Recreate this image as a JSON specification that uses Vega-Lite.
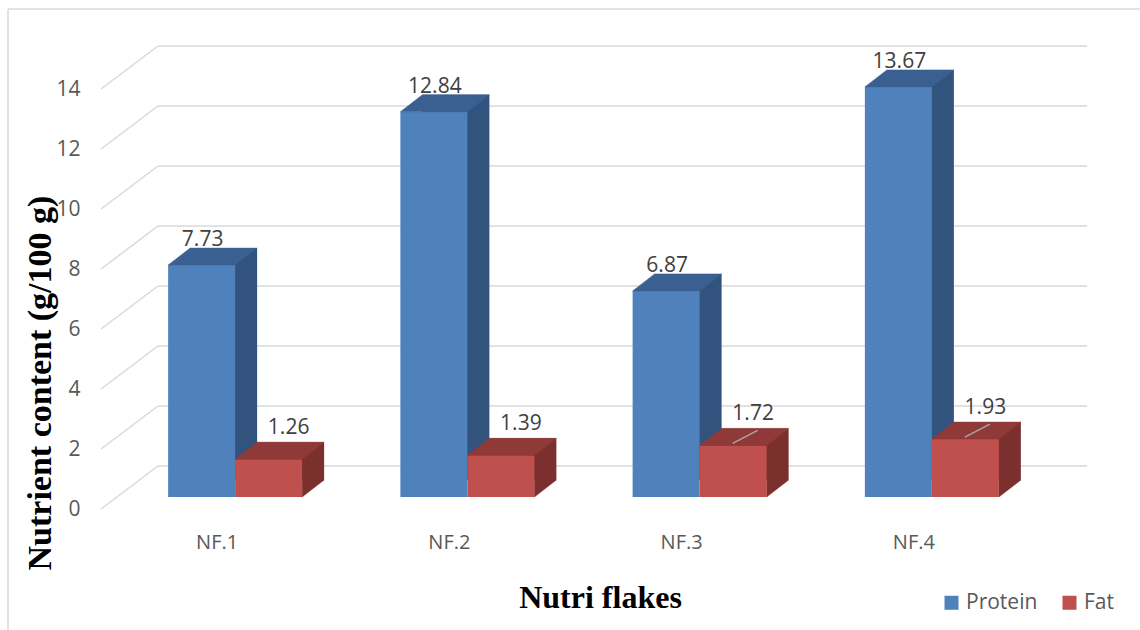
{
  "$schema": "https://vega.github.io/schema/vega-lite/v6.json",
  "autosize": "none",
  "width": 929,
  "height": 420,
  "padding": {"left": 101, "top": 89, "right": 110, "bottom": 121},
  "background": "white",
  "config": {
    "view": {"stroke": null},
    "font": "Open Sans"
  },
  "datasets": {
    "nutrients": [
      {"flakes": "NF.1", "nutrient": "Protein", "value": 7.73},
      {"flakes": "NF.2", "nutrient": "Protein", "value": 12.84},
      {"flakes": "NF.3", "nutrient": "Protein", "value": 6.87},
      {"flakes": "NF.4", "nutrient": "Protein", "value": 13.67},
      {"flakes": "NF.1", "nutrient": "Fat", "value": 1.26},
      {"flakes": "NF.2", "nutrient": "Fat", "value": 1.39},
      {"flakes": "NF.3", "nutrient": "Fat", "value": 1.72},
      {"flakes": "NF.4", "nutrient": "Fat", "value": 1.93}
    ],
    "ticks": [{"v": 0}, {"v": 2}, {"v": 4}, {"v": 6}, {"v": 8}, {"v": 10}, {"v": 12}, {"v": 14}]
  },
  "encoding": {
    "x": {
      "field": "flakes",
      "type": "nominal",
      "sort": ["NF.1", "NF.2", "NF.3", "NF.4"],
      "scale": {"domain": ["NF.1", "NF.2", "NF.3", "NF.4"], "paddingInner": 0, "paddingOuter": 0},
      "axis": {
        "title": "Nutri flakes",
        "domain": false,
        "ticks": false,
        "tickSize": 0,
        "grid": false,
        "labelAngle": 0,
        "labelFont": "Open Sans",
        "labelFontSize": 20,
        "labelColor": "#595959",
        "labelPadding": 39,
        "labelBaseline": "alphabetic",
        "titleFont": "Liberation Serif",
        "titleFontSize": 32,
        "titleFontWeight": "bold",
        "titleColor": "#000000",
        "titleX": 499,
        "titleY": 98,
        "titleAlign": "center",
        "titleBaseline": "alphabetic"
      }
    },
    "y": {
      "field": "value",
      "type": "quantitative",
      "scale": {"domain": [0, 14], "nice": false, "zero": true},
      "axis": {
        "title": "Nutrient content (g/100 g)",
        "values": [0, 2, 4, 6, 8, 10, 12, 14],
        "domain": false,
        "ticks": false,
        "tickSize": 0,
        "grid": false,
        "labelFont": "Open Sans",
        "labelFontSize": 21,
        "labelColor": "#595959",
        "labelPadding": 21,
        "titleFont": "Liberation Serif",
        "titleFontSize": 34,
        "titleFontWeight": "bold",
        "titleColor": "#000000",
        "titleAngle": 270,
        "titleX": -61,
        "titleY": 481,
        "titleAlign": "left",
        "titleBaseline": "middle"
      }
    }
  },
  "layer": [
    {
      "data": {"name": "ticks"},
      "transform": [{"filter": "datum.v === 14"}],
      "mark": {"type": "rule", "color": "#d9d9d9", "strokeWidth": 1.5, "xOffset": -93, "x2Offset": 200, "yOffset": -80, "y2Offset": -80},
      "encoding": {
        "x": {"datum": "NF.1", "bandPosition": 0},
        "x2": {"datum": "NF.4", "bandPosition": 1},
        "y": {"field": "v", "type": "quantitative"}
      }
    },
    {
      "data": {"name": "ticks"},
      "transform": [{"filter": "datum.v === 14"}],
      "mark": {"type": "point", "shape": "M0,0L0,700", "size": 4, "filled": false, "stroke": "#d9d9d9", "strokeWidth": 1.5, "opacity": 1, "xOffset": -93, "yOffset": -80},
      "encoding": {
        "x": {"datum": "NF.1", "bandPosition": 0},
        "y": {"field": "v", "type": "quantitative"}
      }
    },
    {
      "data": {"name": "ticks"},
      "mark": {"type": "rule", "color": "#d9d9d9", "strokeWidth": 1.5, "xOffset": 57, "x2Offset": 57, "yOffset": -43, "y2Offset": -43},
      "encoding": {
        "x": {"datum": "NF.1", "bandPosition": 0},
        "x2": {"datum": "NF.4", "bandPosition": 1},
        "y": {"field": "v", "type": "quantitative"}
      }
    },
    {
      "data": {"name": "ticks"},
      "mark": {"type": "point", "shape": "M0,0L57,-43", "size": 4, "filled": false, "stroke": "#d9d9d9", "strokeWidth": 1.5, "opacity": 1},
      "encoding": {
        "x": {"datum": "NF.1", "bandPosition": 0},
        "y": {"field": "v", "type": "quantitative"}
      }
    },
    {
      "data": {"name": "nutrients"},
      "transform": [{"filter": "datum.nutrient === 'Protein'"}],
      "layer": [
        {
          "mark": {"type": "bar", "width": 67, "color": "#32537e", "xOffset": 6.5, "yOffset": -29, "y2Offset": -29},
          "encoding": {"y2": {"datum": 0}}
        },
        {
          "mark": {"type": "bar", "width": 67, "xOffset": -15.5, "yOffset": -12, "y2Offset": -12},
          "encoding": {
            "y2": {"datum": 0},
            "color": {
              "field": "nutrient",
              "type": "nominal",
              "scale": {"domain": ["Protein", "Fat"], "range": ["#4f81bd", "#c0504d"]},
              "legend": {
                "title": null,
                "orient": "none",
                "direction": "horizontal",
                "legendX": 840,
                "legendY": 503,
                "padding": 0,
                "symbolType": "square",
                "symbolSize": 196,
                "symbolStrokeWidth": 0,
                "symbolOpacity": 1,
                "labelFont": "Open Sans",
                "labelFontSize": 21,
                "labelColor": "#595959",
                "labelOffset": 4,
                "columnPadding": 21
              }
            }
          }
        },
        {
          "mark": {"type": "point", "shape": "M-49,-12L18,-12L40,-29L-27,-29Z", "size": 4, "filled": true, "color": "#3a6092", "stroke": "#3a6092", "strokeWidth": 0.5, "opacity": 1}
        }
      ]
    },
    {
      "data": {"name": "nutrients"},
      "transform": [{"filter": "datum.nutrient === 'Fat'"}],
      "layer": [
        {
          "mark": {"type": "bar", "width": 67, "color": "#7c302e", "xOffset": 73.5, "yOffset": -29, "y2Offset": -29},
          "encoding": {"y2": {"datum": 0}}
        },
        {
          "mark": {"type": "point", "shape": "M85,-29L85,-12L107,-29Z", "size": 4, "filled": true, "color": "#7c302e", "stroke": "#7c302e", "strokeWidth": 0.5, "opacity": 1},
          "encoding": {"y": {"datum": 0}}
        },
        {
          "mark": {"type": "bar", "width": 67, "xOffset": 51.5, "yOffset": -12, "y2Offset": -12},
          "encoding": {
            "y2": {"datum": 0},
            "color": {"field": "nutrient", "type": "nominal"}
          }
        },
        {
          "mark": {"type": "point", "shape": "M18,-12L85,-12L107,-29L40,-29Z", "size": 4, "filled": true, "color": "#8f3a38", "stroke": "#8f3a38", "strokeWidth": 0.5, "opacity": 1}
        }
      ]
    },
    {
      "data": {"name": "nutrients"},
      "transform": [{"filter": "datum.nutrient === 'Fat' && (datum.flakes === 'NF.3' || datum.flakes === 'NF.4')"}],
      "mark": {"type": "point", "shape": "M51,-14L76,-27", "size": 4, "filled": false, "stroke": "#a6a6a6", "strokeWidth": 1.5, "opacity": 1}
    },
    {
      "data": {"name": "nutrients"},
      "transform": [{"filter": "datum.nutrient === 'Protein'"}],
      "mark": {"type": "text", "font": "Open Sans", "fontSize": 21, "color": "#404040", "align": "center", "baseline": "alphabetic", "dx": -14.5, "dy": -31},
      "encoding": {"text": {"field": "value", "type": "quantitative", "format": ".2f"}}
    },
    {
      "data": {"name": "nutrients"},
      "transform": [{"filter": "datum.nutrient === 'Fat'"}],
      "mark": {"type": "text", "font": "Open Sans", "fontSize": 21, "color": "#404040", "align": "center", "baseline": "alphabetic", "dx": 71.5, "dy": -37},
      "encoding": {"text": {"field": "value", "type": "quantitative", "format": ".2f"}}
    }
  ]
}
